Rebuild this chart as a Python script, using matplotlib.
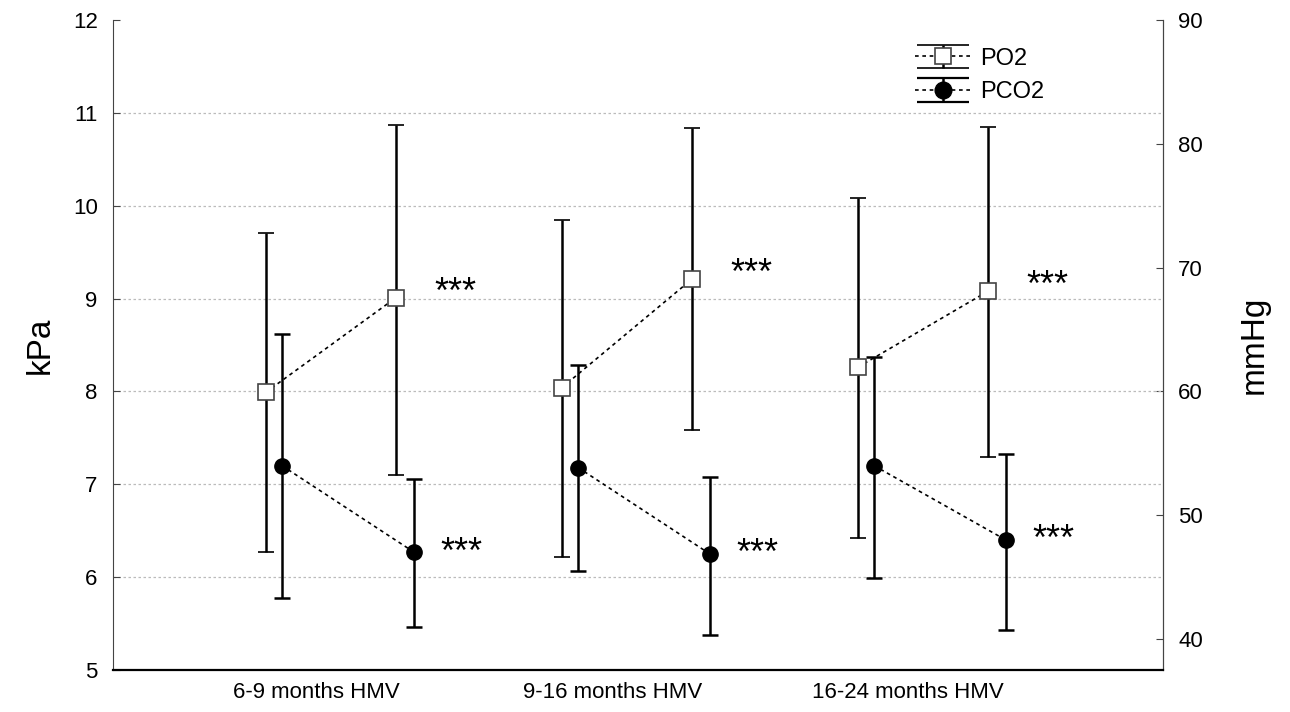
import numpy as np
import matplotlib
matplotlib.use('Agg')
import matplotlib.pyplot as plt

plt.rcParams['font.family'] = ['Liberation Sans', 'DejaVu Sans']

groups = ['6-9 months HMV', '9-16 months HMV', '16-24 months HMV']

# kPa: mean, lower end, upper end of the bars
po2_pre = [7.99, 8.04, 8.26]
po2_pre_lo = [6.27, 6.22, 6.42]
po2_pre_hi = [9.71, 9.85, 10.08]
po2_post = [9.01, 9.21, 9.08]
po2_post_lo = [7.10, 7.58, 7.29]
po2_post_hi = [10.87, 10.84, 10.85]

pco2_pre = [7.20, 7.18, 7.20]
pco2_pre_lo = [5.77, 6.07, 5.99]
pco2_pre_hi = [8.62, 8.28, 8.37]
pco2_post = [6.27, 6.25, 6.40]
pco2_post_lo = [5.46, 5.38, 5.43]
pco2_post_hi = [7.06, 7.08, 7.33]

signif = '***'
KPA_TO_MMHG = 7.50062

fig = plt.figure(figsize=(12.9, 7.12), dpi=100)
ax = fig.add_axes([0.0876, 0.059, 0.814, 0.913])

xc = np.arange(len(groups))
off_po2 = (-0.17, 0.27)
off_pco2 = (-0.115, 0.33)

def err(m, lo, hi):
    return [[m[0] - lo[0], m[1] - lo[1]], [hi[0] - m[0], hi[1] - m[1]]]

for i in range(len(groups)):
    m = [po2_pre[i], po2_post[i]]
    e = err(m, [po2_pre_lo[i], po2_post_lo[i]], [po2_pre_hi[i], po2_post_hi[i]])
    ax.errorbar([xc[i] + off_po2[0], xc[i] + off_po2[1]], m, yerr=e,
                fmt='s', ls=(0, (2.2, 2.2)), lw=1.2, color='black',
                mfc='white', mec='#444444', mew=1.2, ms=11,
                ecolor='black', elinewidth=1.8, capsize=6, capthick=1.8, zorder=3)
    ax.text(xc[i] + off_po2[1] + 0.2, po2_post[i] + 0.05, signif,
            fontsize=26, ha='center', va='center')

    m = [pco2_pre[i], pco2_post[i]]
    e = err(m, [pco2_pre_lo[i], pco2_post_lo[i]], [pco2_pre_hi[i], pco2_post_hi[i]])
    ax.errorbar([xc[i] + off_pco2[0], xc[i] + off_pco2[1]], m, yerr=e,
                fmt='o', ls=(0, (2.2, 2.2)), lw=1.2, color='black',
                mfc='black', mec='black', ms=11,
                ecolor='black', elinewidth=1.8, capsize=6, capthick=1.8, zorder=3)
    ax.text(xc[i] + off_pco2[1] + 0.16, pco2_post[i] - 0.01, signif,
            fontsize=26, ha='center', va='center')

# legend proxies (off screen) with wide caps
h1 = ax.errorbar([-5], [8], yerr=[1], fmt='s', ls=(0, (2.2, 2.2)), lw=1.2,
                 color='black', mfc='white', mec='#444444', mew=1.2, ms=12,
                 ecolor='black', elinewidth=1.8, capsize=19, capthick=1.6)
h2 = ax.errorbar([-5], [8], yerr=[1], fmt='o', ls=(0, (2.2, 2.2)), lw=1.2,
                 color='black', mfc='black', ms=12,
                 ecolor='black', elinewidth=1.8, capsize=19, capthick=1.6)
ax.legend([h1, h2], ['PO2', 'PCO2'], loc='upper left',
          bbox_to_anchor=(0.744, 0.99), frameon=False, fontsize=17,
          handlelength=2.3, handletextpad=0.45, labelspacing=0.5,
          borderpad=0.4)

ax.set_xlim(-0.686, 2.861)
ax.set_ylim(5, 12)
ax.set_xticks(xc)
ax.set_xticklabels(groups, fontsize=16)
ax.set_yticks(range(5, 13))
ax.tick_params(axis='x', length=0, pad=9)
ax.tick_params(axis='y', direction='in', length=5, labelsize=16, pad=11,
               color='#444444')

ax.yaxis.grid(True, color='#bbbbbb', ls=(0, (2, 2)), lw=0.9)
gl = ax.yaxis.get_gridlines()
gl[-1].set_visible(False)
ax.set_axisbelow(True)

ax.spines['top'].set_visible(False)
ax.spines['left'].set_color('#444444')
ax.spines['right'].set_color('#444444')
ax.spines['bottom'].set_linewidth(1.6)

ax.set_ylabel('kPa', fontsize=24, labelpad=12)

sec = ax.secondary_yaxis('right', functions=(lambda k: k * KPA_TO_MMHG,
                                              lambda m: m / KPA_TO_MMHG))
sec.set_yticks(range(40, 91, 10))
sec.tick_params(direction='in', length=5, labelsize=16, pad=11, color='#444444')
sec.spines['right'].set_color('#444444')
sec.set_ylabel('mmHg', fontsize=24, labelpad=26)

fig.savefig('out.png', dpi=100)
